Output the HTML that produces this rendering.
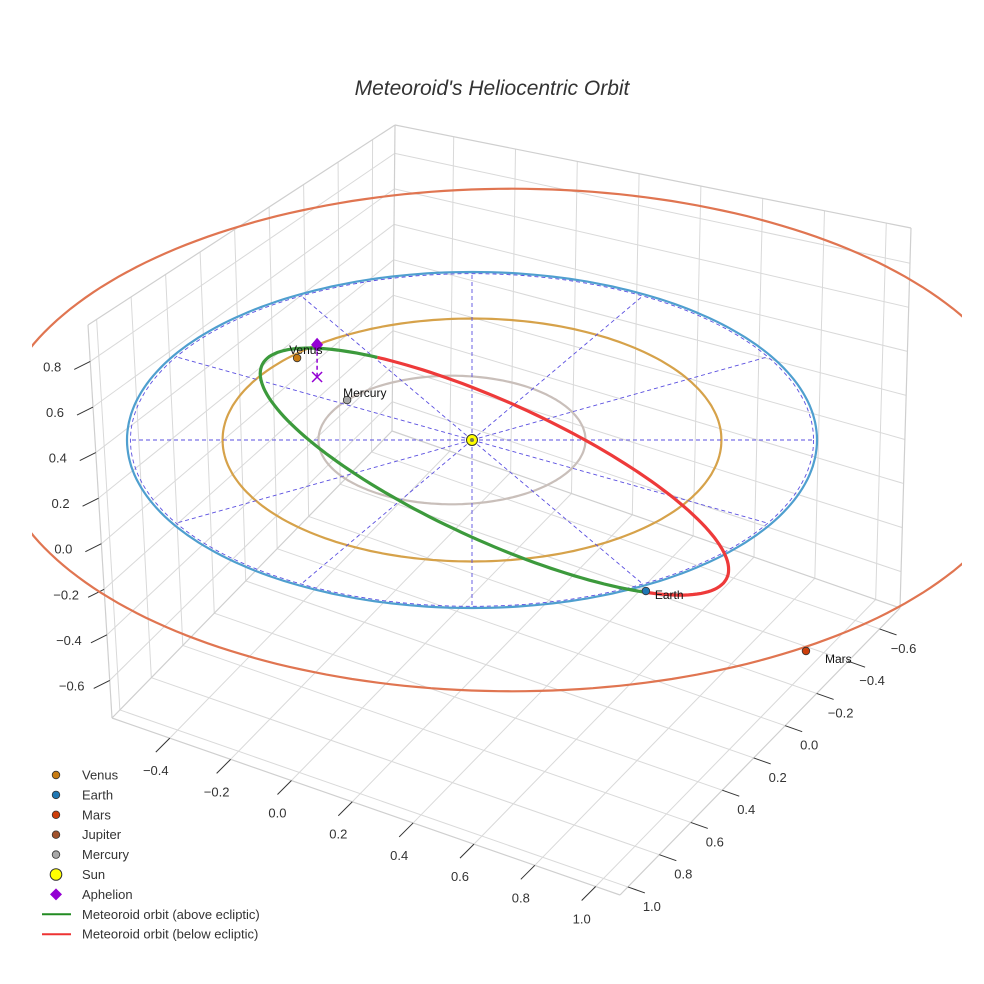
<!DOCTYPE html>
<html><head><meta charset="utf-8"><style>
body{margin:0;background:#fff}
svg{display:block;font-family:"Liberation Sans",Arial,sans-serif}
</style></head><body>
<svg id="chart" width="984" height="984" viewBox="0 0 984 984">
<rect width="984" height="984" fill="#fff"/>
<defs><clipPath id="sceneClip"><rect x="32" y="0" width="930" height="984"/></clipPath></defs>
<text x="492" y="95" text-anchor="middle" font-size="21" font-style="italic" fill="#333">Meteoroid's Heliocentric Orbit</text>
<g id="grid"></g>
<g id="scene" clip-path="url(#sceneClip)"></g>
<g id="legend"></g>
</svg>
<script>
// ---- axis data ----
const aTicks = [-0.4,-0.2,0.0,0.2,0.4,0.6,0.8,1.0];
const aRange = [-0.59, 1.08];
const bTicks = [1.0,0.8,0.6,0.4,0.2,0.0,-0.2,-0.4,-0.6];
const bRange = [1.05, -0.73];
const zTicks = [-0.6,-0.4,-0.2,0.0,0.2,0.4,0.6,0.8];
const zRange = [-0.765, 0.96];
// ---- planetary orbits ----
const orbitNames = ['Mars','Earth','Venus','Mercury'];
const orbitA = [1.5, 1.0, 0.723, 0.387];
const orbitE = [0.077, 0.0, 0.0, 0.15];
const orbitPeri = [180, 0, 0, 0];
const orbitColors = ['#e07551','#4f9fcf','#d6a24a','#c9bfba'];
// ---- planets ----
const planetNames = ['Venus','Earth','Mars','Mercury'];
const planetX = [-0.507, 0.504, 0.968, -0.362];
const planetY = [-0.488, 0.899, 1.256, -0.238];
const planetColors = ['#c77b12','#1f77b4','#cc3e0a','#a8a8a8'];
// ---- meteoroid orbit (ellipse in view-isotropic units) ----
const metCenter = [0.065, 0.0915];
const metSemi = [0.741, 0.2];
const metAngle = [24.6];
const metNodes = [43, 233];
const aphelion = [-0.449, -0.375, 0.14];
// ---- reference ----
const spokeAngles = [0,30,60,90,120,150,180,210,240,270,300,330];
const refRadius = [0.99];

const NS='http://www.w3.org/2000/svg';
function mk(tag, attrs, parent){const e=document.createElementNS(NS,tag);for(const k in attrs)e.setAttribute(k,attrs[k]);parent.appendChild(e);return e;}
const grid=document.getElementById('grid'), scene=document.getElementById('scene'), legend=document.getElementById('legend');

const L=[112,718],F=[620,895],R=[900,608],B=[392,431],TL=[88,325],TB=[395,125],TR=[911,228];
function lerp(p,q,t){return [p[0]+(q[0]-p[0])*t,p[1]+(q[1]-p[1])*t];}
function bil(p00,p10,p11,p01,s,t){return lerp(lerp(p00,p10,s),lerp(p01,p11,s),t);}
const aS=v=>(v-aRange[0])/(aRange[1]-aRange[0]);
const bS=v=>(v-bRange[0])/(bRange[1]-bRange[0]);
const zS=v=>(v-zRange[0])/(zRange[1]-zRange[0]);
function line(p,q,col,w,parent,name){const l=mk('line',{x1:p[0],y1:p[1],x2:q[0],y2:q[1],stroke:col,'stroke-width':w},parent);return l;}
const GC='#d9d9d9';
aTicks.forEach(v=>{const s=aS(v);line(bil(L,F,R,B,s,0),bil(L,F,R,B,s,1),GC,1,grid,'floor-gridline-a');});
bTicks.forEach(v=>{const t=bS(v);line(bil(L,F,R,B,0,t),bil(L,F,R,B,1,t),GC,1,grid,'floor-gridline-b');});
bTicks.forEach(v=>{const s=bS(v);line(bil(L,B,TB,TL,s,0),bil(L,B,TB,TL,s,1),GC,1,grid,'left-wall-gridline-b');});
zTicks.forEach(v=>{const t=zS(v);line(bil(L,B,TB,TL,0,t),bil(L,B,TB,TL,1,t),GC,1,grid,'left-wall-gridline-z');});
aTicks.forEach(v=>{const s=aS(v);line(bil(B,R,TR,TB,s,0),bil(B,R,TR,TB,s,1),GC,1,grid,'right-wall-gridline-a');});
zTicks.forEach(v=>{const t=zS(v);line(bil(B,R,TR,TB,0,t),bil(B,R,TR,TB,1,t),GC,1,grid,'right-wall-gridline-z');});
[[L,F],[F,R],[L,TL],[TL,TB],[TB,TR],[TR,R],[B,TB],[L,B],[B,R]].forEach(e=>line(e[0],e[1],'#cfcfcf',1.2,grid,'box-edge'));
function label(x,y,txt,anchor,size,name){const t=mk('text',{x:x,y:y,'text-anchor':anchor,'font-size':size,fill:'#333'},grid);t.textContent=txt;return t;}
const fmt=v=>(v<0?'\u2212':'')+Math.abs(v).toFixed(1);
aTicks.forEach(v=>{const p=lerp(L,F,aS(v));line(p,[p[0]-14,p[1]+14],'#333',1,grid,'a-tick');label(p[0]-14,p[1]+37,fmt(v),'middle',13,'a-tick-label');});
bTicks.forEach(v=>{const p=lerp(F,R,bS(v));line(p,[p[0]+17,p[1]+6],'#333',1,grid,'b-tick');label(p[0]+24,p[1]+24,fmt(v),'middle',13,'b-tick-label');});
zTicks.forEach(v=>{const p=lerp(L,TL,zS(v));line(p,[p[0]-16,p[1]+8],'#333',1,grid,'z-tick');label(p[0]-38,p[1]+10,fmt(v),'middle',13,'z-tick-label');});

function proj(x,y,z){return [472+345*x, 440+168*y-230*z];}
function pathFrom(pts){return pts.map((p,i)=>(i?'L':'M')+p[0].toFixed(1)+' '+p[1].toFixed(1)).join(' ');}
orbitNames.forEach((n,i)=>{
  const a=orbitA[i],e=orbitE[i],w=orbitPeri[i]*Math.PI/180,b=a*Math.sqrt(1-e*e);
  const cx=-a*e*Math.cos(w),cy=-a*e*Math.sin(w);const pts=[];
  for(let k=0;k<=240;k++){const t=k/240*2*Math.PI;const ex=a*Math.cos(t),ey=b*Math.sin(t);
    pts.push(proj(cx+ex*Math.cos(w)-ey*Math.sin(w),cy+ex*Math.sin(w)+ey*Math.cos(w),0));}
  const p=mk('path',{d:pathFrom(pts)+'Z',fill:'none',stroke:orbitColors[i],'stroke-width':2.2},scene);
  
});
{const pts=[];for(let k=0;k<=240;k++){const t=k/240*2*Math.PI;pts.push(proj(refRadius[0]*Math.cos(t),refRadius[0]*Math.sin(t),0));}
const p=mk('path',{d:pathFrom(pts)+'Z',fill:'none',stroke:'#5a4fe0','stroke-width':0.9,'stroke-dasharray':'4 3'},scene);
}
spokeAngles.forEach(d=>{const t=d*Math.PI/180;const p=proj(refRadius[0]*Math.cos(t),refRadius[0]*Math.sin(t),0);
  const o=proj(0,0,0);
  const l=mk('line',{x1:o[0],y1:o[1],x2:p[0],y2:p[1],stroke:'#5a4fe0','stroke-width':0.9,'stroke-dasharray':'4 3'},scene);
  });
{const ang=metAngle[0]*Math.PI/180,d1=[Math.cos(ang),Math.sin(ang)],d2=[-Math.sin(ang),Math.cos(ang)];
 const n1=metNodes[0],n2=metNodes[1];
 function pt(deg){const t=deg*Math.PI/180;const c=metSemi[0]*Math.cos(t),s=metSemi[1]*Math.sin(t);
   const X=metCenter[0]+c*d1[0]+s*d2[0],Y=metCenter[1]+c*d1[1]+s*d2[1];
   return proj(X,Y*345/168,0);}
 const above=[],below=[];
 for(let d=n1;d<=n2;d+=2)above.push(pt(d));
 for(let d=n2;d<=n1+360;d+=2)below.push(pt(d));
 const g=mk('path',{d:pathFrom(above),fill:'none',stroke:'#3c9a3c','stroke-width':3.2},scene);
 
 const r=mk('path',{d:pathFrom(below),fill:'none',stroke:'#ee3a3a','stroke-width':3.2},scene);
 }
{const top=proj(aphelion[0],aphelion[1],aphelion[2]),bot=proj(aphelion[0],aphelion[1],0);
 const l=mk('line',{x1:top[0],y1:top[1],x2:bot[0],y2:bot[1],stroke:'#9400d3','stroke-width':1.5,'stroke-dasharray':'4 3'},scene);
 
 const x=mk('path',{d:`M${bot[0]-5} ${bot[1]-5}L${bot[0]+5} ${bot[1]+5}M${bot[0]+5} ${bot[1]-5}L${bot[0]-5} ${bot[1]+5}`,stroke:'#9400d3','stroke-width':1.5},scene);
 
 const dm=mk('path',{d:`M${top[0]} ${top[1]-7}L${top[0]+6} ${top[1]}L${top[0]} ${top[1]+7}L${top[0]-6} ${top[1]}Z`,fill:'#9400d3'},scene);
 }
planetNames.forEach((n,i)=>{const p=proj(planetX[i],planetY[i],0);
  const c=mk('circle',{cx:p[0],cy:p[1],r:3.8,fill:planetColors[i],stroke:'#333','stroke-width':0.8},scene);
  
  const off={Venus:[-8,-4],Earth:[9,8],Mars:[19,12],Mercury:[-4,-3]}[n];
  const t=mk('text',{x:p[0]+off[0],y:p[1]+off[1],'font-size':12,fill:'#111'},scene);t.textContent=n;
  });
{const p=proj(0,0,0);const s=mk('circle',{cx:p[0],cy:p[1],r:5.5,fill:'#ffff00',stroke:'#333','stroke-width':1},scene);
 
 const d=mk('circle',{cx:p[0],cy:p[1],r:2,fill:'#7a7a50'},scene);}

const legendLabels=['Venus','Earth','Mars','Jupiter','Mercury','Sun','Aphelion','Meteoroid orbit (above ecliptic)','Meteoroid orbit (below ecliptic)'];
const legendColors=['#c77b12','#1f77b4','#cc3e0a','#a0522d','#a8a8a8','#ffff00','#9400d3','#228b22','#ee3333'];
const legendKinds=['dot','dot','dot','dot','dot','sun','diamond','line','line'];
legendLabels.forEach((lab,i)=>{const y=775+i*19.9;
  const g=mk('g',{},legend);
  const k=legendKinds[i];
  if(k==='dot')mk('circle',{cx:56,cy:y,r:3.8,fill:legendColors[i],stroke:'#333','stroke-width':0.8},g);
  else if(k==='sun')mk('circle',{cx:56,cy:y,r:5.8,fill:legendColors[i],stroke:'#333','stroke-width':1},g);
  else if(k==='diamond')mk('path',{d:`M56 ${y-6}L62 ${y}L56 ${y+6}L50 ${y}Z`,fill:legendColors[i]},g);
  else mk('line',{x1:42,y1:y,x2:71,y2:y,stroke:legendColors[i],'stroke-width':2},g);
  const t=mk('text',{x:82,y:y+4.5,'font-size':13,fill:'#333'},g);t.textContent=lab;});
</script>
</body></html>
